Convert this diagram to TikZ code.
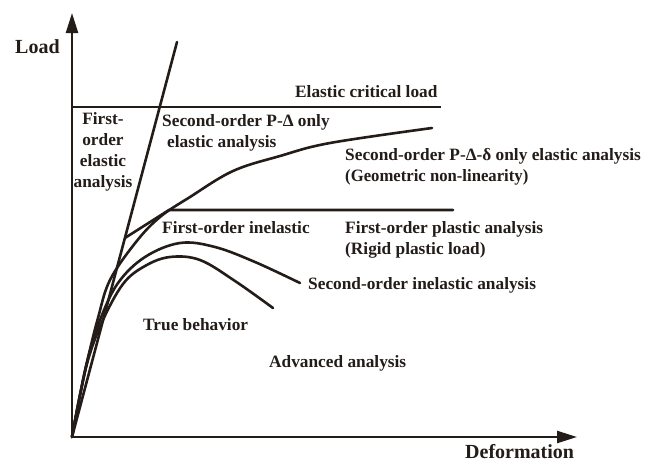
\documentclass[tikz,border=0pt]{standalone}
\usepackage{fontspec}
\setmainfont{Liberation Serif}
\newfontfamily\narrowfont[FakeStretch=0.965]{Liberation Serif}
\usetikzlibrary{arrows.meta,calc}
\definecolor{ink}{RGB}{35,28,25}
\begin{document}
\begin{tikzpicture}[x=1pt,y=-1pt,
  curve/.style={draw=ink,line width=2.6pt,line cap=round,line join=round},
  axis/.style={draw=ink,line width=2.3pt,{Triangle[length=20pt,width=12pt]}-{Triangle[length=20pt,width=12pt]}},
  lbl/.style={font=\bfseries\fontsize{17.3}{20}\selectfont,text=ink,inner sep=0pt},
  axlbl/.style={font=\bfseries\fontsize{20}{22}\selectfont,text=ink,inner sep=0pt}]
\useasboundingbox (0,0) rectangle (651,461);
\fill[white] (0,0) rectangle (651,461);

% named points
\coordinate (O) at (72,437);
\coordinate (ytip) at (72,13);
\coordinate (xtip) at (577,437);
\coordinate (elTop) at (177,42);
\coordinate (crL) at (72,107);
\coordinate (crR) at (441,107);
\coordinate (kink) at ($(O)!0.5038!(elTop)$);
\coordinate (plL) at (169,210);
\coordinate (plR) at (453,210);

% axes
\draw[axis] (ytip) -- (O) -- (xtip);

% elastic critical load
\draw[curve,line cap=butt] (crL) -- (crR);

% first-order elastic line
\draw[curve] (O) -- (elTop);

% first-order inelastic / plastic
\draw[curve] (kink) -- (plL) -- (plR);

% second-order elastic
\draw[curve] plot[smooth,tension=0.6] coordinates {(72,437) (79,400) (88,358) (98,318) (110,280) (136,242) (160,217) (190,197) (233,171) (280,156) (330,143) (432,128)};

% second-order inelastic
\draw[curve] plot[smooth,tension=0.6] coordinates {(72,437) (79,400) (88,358) (100,320) (118,283) (145,257) (180,243) (215,247) (255,262) (300,283)};

% true behaviour
\draw[curve] plot[smooth,tension=0.6] coordinates {(72,437) (79,400) (88,360) (102,322) (123,284) (145,266) (170,257) (200,260) (235,281) (273,308)};

% labels
\node[axlbl,anchor=base west] (load) at (15,53) {Load};
\node[axlbl,anchor=base west] (def) at (465,458) {Deformation};
\node[lbl,anchor=base west] (ecl) at (295,97) {Elastic critical load};

\node[lbl,anchor=base] (f1) at (103,124) {First-};
\node[lbl,anchor=base] (f2) at (103,145) {order};
\node[lbl,anchor=base] (f3) at (103,166) {elastic};
\node[lbl,anchor=base] (f4) at (103,187) {analysis};

\node[lbl,anchor=base west] (s1) at (162,126) {Second-order P-Δ only};
\node[lbl,anchor=base west] (s2) at (167,147) {elastic analysis};

\node[lbl,anchor=base west] (d1) at (345,160) {Second-order P-Δ-δ only elastic analysis};
\node[lbl,anchor=base west,font=\narrowfont\bfseries\fontsize{17.3}{20}\selectfont] (d2) at (345,181) {(Geometric non-linearity)};

\node[lbl,anchor=base west] (fi) at (162,233) {First-order inelastic};
\node[lbl,anchor=base west] (p1) at (345,233) {First-order plastic analysis};
\node[lbl,anchor=base west] (p2) at (345,254) {(Rigid plastic load)};

\node[lbl,anchor=base west] (si) at (308,289) {Second-order inelastic analysis};
\node[lbl,anchor=base west] (tb) at (143,330) {True behavior};
\node[lbl,anchor=base west] (aa) at (269,367) {Advanced analysis};
\end{tikzpicture}
\end{document}
